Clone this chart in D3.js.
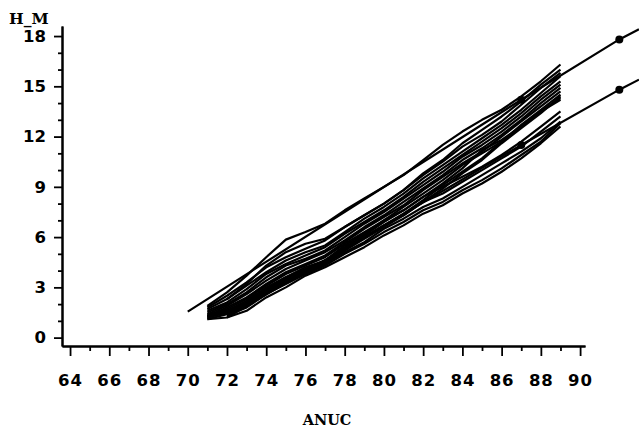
<!DOCTYPE html>
<html>
<head>
<meta charset="utf-8">
<script src="https://cdn.jsdelivr.net/npm/d3@7"></script>
<style>
body { margin: 0; background: #fff; }
</style>
</head>
<body>
<div class="chart"></div>
<script>
// years of measurement (ANUC)
const years = [71, 72, 73, 74, 75, 76, 77, 78, 79, 80, 81, 82, 83, 84, 85, 86, 87, 88, 89]

// tree heights (H_M), one array per tree, null = not measured
const topTrees = [
    [1.9, 2.7, 3.7, 4.8, 5.85, 6.3, 6.8, 7.6, 8.3, 9.0, 9.7, 10.6, 11.5, 12.3, 13.0, 13.6, 14.4, 15.3, 16.3],
    [null, 2.3, 3.2, 4.3, 5.1, 5.6, 5.9, 6.6, 7.3, 8.0, 8.8, 9.8, 10.6, 11.6, 12.4, 13.2, 14.1, 15.1, 16.0]
]
const upperTrees = [
    [1.8, 2.5, 3.3, 4.2, 4.8, 5.3, 5.8, 6.6, 7.3, 8.0, 8.8, 9.7, 10.5, 11.4, 12.1, 12.9, 13.9, 14.9, 15.8],
    [1.7, 2.3, 3.1, 3.9, 4.6, 5.1, 5.5, 6.3, 7.1, 7.8, 8.6, 9.5, 10.3, 11.1, 11.9, 12.7, 13.6, 14.6, 15.6],
    [1.6, 2.1, 2.9, 3.8, 4.4, 4.9, 5.4, 6.2, 6.9, 7.6, 8.4, 9.3, 10.1, 10.9, 11.7, 12.5, 13.4, 14.4, 15.3],
    [1.5, 2.0, 2.7, 3.6, 4.3, 4.7, 5.2, 6.0, 6.8, 7.5, 8.3, 9.1, 9.9, 10.8, 11.5, 12.3, 13.2, 14.2, 15.1],
    [1.4, 1.9, 2.6, 3.4, 4.1, 4.6, 5.1, 5.8, 6.6, 7.3, 8.1, 8.9, 9.7, 10.6, 11.3, 12.1, 13.0, 14.0, 14.9],
    [1.3, 1.8, 2.4, 3.2, 3.9, 4.4, 4.9, 5.7, 6.5, 7.2, 7.9, 8.8, 9.6, 10.4, 11.1, 12.0, 12.9, 13.8, 14.7],
    [1.3, 1.7, 2.3, 3.1, 3.8, 4.3, 4.8, 5.6, 6.3, 7.0, 7.8, 8.6, 9.4, 10.3, 11.0, 11.7, 12.7, 13.6, 14.5],
    [1.2, 1.6, 2.1, 2.9, 3.6, 4.1, 4.6, 5.4, 6.1, 6.9, 7.6, 8.4, 9.2, 10.1, 11.2, 11.8, 12.6, 13.5, 14.3],
    [null, 1.5, 2.0, 2.8, 3.5, 4.0, 4.5, 5.3, 6.0, 6.7, 7.4, 8.2, 9.1, 9.9, 10.7, 11.7, 12.6, 13.5, 14.2],
    [1.2, 1.5, 1.9, 2.7, 3.4, 3.9, 4.4, 5.2, 5.9, 6.6, 7.3, 8.1, 8.9, 9.8, 10.6, 11.6, 12.5, 13.4, 14.4]
]
const lowerTrees = [
    [1.3, 1.6, 2.2, 3.0, 3.6, 4.2, 4.6, 5.5, 6.2, 7.0, 7.6, 8.4, 9.0, 9.6, 10.2, 10.9, 11.7, 12.6, 13.5],
    [1.2, 1.5, 2.0, 2.9, 3.5, 4.0, 4.5, 5.3, 6.0, 6.7, 7.3, 8.1, 8.6, 9.3, 10.0, 10.7, 11.4, 12.3, 13.2],
    [1.1, 1.4, 1.9, 2.7, 3.3, 3.9, 4.4, 5.1, 5.7, 6.5, 7.1, 7.8, 8.3, 9.0, 9.7, 10.4, 11.1, 11.9, 12.9],
    [null, 1.3, 1.8, 2.6, 3.2, 3.8, 4.3, 5.0, 5.6, 6.3, 6.9, 7.6, 8.1, 8.8, 9.4, 10.1, 10.9, 11.7, 12.8],
    [1.1, 1.2, 1.6, 2.4, 3.0, 3.7, 4.2, 4.8, 5.4, 6.1, 6.7, 7.4, 7.9, 8.6, 9.2, 9.9, 10.7, 11.6, 12.6]
]

// two model curves, with marked points
const upperModelX = [70, 87, 92, 93]
const upperModelY = [1.55, 14.2, 17.8, 18.4]
const lowerModelX = [72, 87, 92, 93]
const lowerModelY = [1.2, 11.5, 14.8, 15.4]
const markYears = [87, 92]

// ticks
const xMajor = [64, 66, 68, 70, 72, 74, 76, 78, 80, 82, 84, 86, 88, 90]
const xMinor = [65, 67, 69, 71, 73, 75, 77, 79, 81, 83, 85, 87, 89]
const yMajor = [0, 3, 6, 9, 12, 15, 18]
const yMinor = [1, 2, 4, 5, 7, 8, 10, 11, 13, 14, 16, 17]

const width = 639
const height = 428

const svg = d3.select('.chart')
    .append('svg')
    .attr('width', width)
    .attr('height', height)

const x = d3.scaleLinear().domain([63.59, 90.25]).range([62, 585])
const y = d3.scaleLinear().domain([-0.5, 18.6]).range([346, 26])

const font = '"DejaVu Sans", sans-serif'

// axes
const xAxis = svg.append('g')
    .attr('transform', `translate(0,${y.range()[0]})`)
    .call(d3.axisBottom(x).tickValues(xMajor).tickSize(10).tickSizeOuter(0).tickPadding(18).tickFormat(d3.format('d')))
svg.append('g')
    .attr('transform', `translate(0,${y.range()[0]})`)
    .call(d3.axisBottom(x).tickValues(xMinor).tickSize(5).tickSizeOuter(0).tickFormat(''))

svg.append('g')
    .attr('transform', `translate(${x.range()[0]},0)`)
    .call(d3.axisLeft(y).tickValues(yMajor).tickSize(8).tickSizeOuter(0).tickPadding(8).tickFormat(d3.format('d')))
svg.append('g')
    .attr('transform', `translate(${x.range()[0]},0)`)
    .call(d3.axisLeft(y).tickValues(yMinor).tickSize(4).tickSizeOuter(0).tickFormat(''))

svg.selectAll('.domain').attr('stroke', '#000').attr('stroke-width', 2)
svg.selectAll('.tick line').attr('stroke', '#000').attr('stroke-width', 1.8)
svg.selectAll('.tick text')
    .attr('fill', '#000')
    .style('font-family', font)
    .style('font-weight', 'bold')
    .style('font-size', '16.5px')
xAxis.selectAll('.tick text').style('letter-spacing', '1px')

// axis titles
svg.append('text')
    .attr('x', 9)
    .attr('y', 24)
    .style('font-family', '"DejaVu Serif", serif')
    .style('font-weight', 'bold')
    .style('font-size', '15.5px')
    .text('H_M')

svg.append('text')
    .attr('x', 327)
    .attr('y', 425)
    .attr('text-anchor', 'middle')
    .style('font-family', '"DejaVu Serif", serif')
    .style('font-weight', 'bold')
    .style('font-size', '14.5px')
    .text('ANUC')

// tree trajectories
const line = d3.line()
    .defined(d => d[1] != null)
    .x(d => x(d[0]))
    .y(d => y(d[1]))

const allTrees = topTrees.concat(upperTrees, lowerTrees)

svg.append('g')
    .selectAll('path')
    .data(allTrees)
    .enter()
    .append('path')
    .attr('d', vals => line(years.map((yr, i) => [yr, vals[i]])))
    .attr('fill', 'none')
    .attr('stroke', '#000')
    .attr('stroke-width', 2.2)
    .attr('stroke-linejoin', 'round')

// model curves
const models = [
    { xs: upperModelX, ys: upperModelY },
    { xs: lowerModelX, ys: lowerModelY }
]

svg.append('g')
    .selectAll('path')
    .data(models)
    .enter()
    .append('path')
    .attr('d', m => line(m.xs.map((v, i) => [v, m.ys[i]])))
    .attr('fill', 'none')
    .attr('stroke', '#000')
    .attr('stroke-width', 2.2)

const marks = []
models.forEach(m => {
    markYears.forEach(yr => {
        const i = m.xs.indexOf(yr)
        marks.push([yr, m.ys[i]])
    })
})

svg.append('g')
    .selectAll('circle')
    .data(marks)
    .enter()
    .append('circle')
    .attr('cx', d => x(d[0]))
    .attr('cy', d => y(d[1]))
    .attr('r', 4)
    .attr('fill', '#000')
</script>
</body>
</html>
